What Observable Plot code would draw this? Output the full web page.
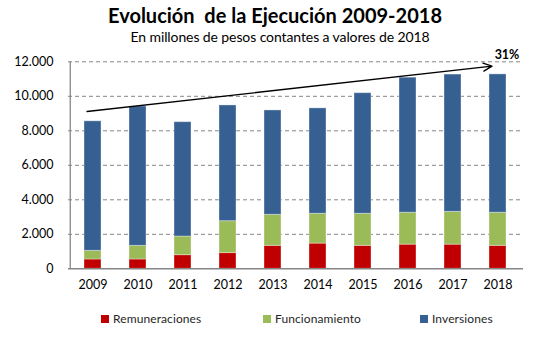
<!DOCTYPE html>
<html><head><meta charset="utf-8">
<script src="https://cdn.jsdelivr.net/npm/d3@7"></script>
<script src="https://cdn.jsdelivr.net/npm/@observablehq/plot@0.6"></script>
<style>
body{margin:0;width:546px;height:346px;background:#fff;font-family:Lato,sans-serif;position:relative;overflow:hidden}
#title{position:absolute;top:3px;left:0;width:546px;text-align:center;font-weight:bold;font-size:20px;white-space:pre;color:#000;padding-left:4px;box-sizing:border-box}
#subtitle{position:absolute;top:28px;left:0;width:546px;text-align:center;font-size:14px;color:#000;padding-left:14px;box-sizing:border-box;letter-spacing:-0.1px}
#chart{position:absolute;top:46px;left:0}
#legend{position:absolute;top:311px;left:0;width:546px;height:16px}
.item{position:absolute;top:0;display:flex;align-items:center;font-size:12px;color:#262626;letter-spacing:0.1px;white-space:nowrap}
.sw{width:8px;height:8px;margin-right:4px}
</style>
</head><body>
<div id="title">Evolución  de la Ejecución 2009-2018</div>
<div id="subtitle">En millones de pesos contantes a valores de 2018</div>
<div id="chart"></div>
<div id="legend"></div>
<script>
const years = ["2009","2010","2011","2012","2013","2014","2015","2016","2017","2018"];
const remuneraciones = [540, 540, 790, 910, 1330, 1460, 1330, 1400, 1400, 1330];
const funcionamiento = [500, 790, 1080, 1850, 1800, 1730, 1860, 1850, 1900, 1920];
const inversiones = [7510, 8080, 6630, 6710, 6050, 6110, 6990, 7830, 7960, 8020];
const series = ["Remuneraciones", "Funcionamiento", "Inversiones"];
const colors = ["#C00000", "#9BBB59", "#376092"];
const yTicks = [0, 2000, 4000, 6000, 8000, 10000, 12000];
const trendStart = 9120;
const trendEnd = 11750;
const trendLabel = "31%";

const values = [remuneraciones, funcionamiento, inversiones];
const rows = [];
years.forEach((yr, i) => series.forEach((s, j) => rows.push({year: yr, serie: s, value: values[j][i]})));
const trend = [{from: years[0], to: years[years.length - 1], start: trendStart, end: trendEnd, label: trendLabel}];

const loc = d3.formatLocale({decimal: ",", thousands: ".", grouping: [3], currency: ["$", ""]});
const fmt = loc.format(",");

const W = 546, ML = 68, MR = 23;
const step = (W - ML - MR) / years.length;

const plot = Plot.plot({
  width: W, height: 254,
  marginLeft: ML, marginRight: MR, marginTop: 15.3, marginBottom: 31.7,
  style: {fontFamily: "Lato, sans-serif", fontSize: "12.5px", color: "#000", background: "transparent", overflow: "visible"},
  x: {domain: years, paddingInner: 0.615, paddingOuter: 0.3075, label: null, tickSize: 0, tickPadding: 11},
  y: {domain: [0, 12000], ticks: yTicks, tickFormat: fmt, label: null, tickSize: 0, tickPadding: 15},
  color: {domain: series, range: colors},
  marks: [
    Plot.ruleY(yTicks.filter(d => d > 0), {stroke: "#868686", strokeDasharray: "4,3"}),
    Plot.barY(rows, {x: "year", y: "value", fill: "serie", stroke: "#ffffff", strokeOpacity: 0.35, strokeWidth: 1}),
    Plot.ruleX(years.slice(0, 1), {y1: 0, y2: 12000, dx: -step / 2, stroke: "#868686", strokeWidth: 1.3}),
    Plot.ruleY([0], {stroke: "#868686", strokeWidth: 1.5}),
    Plot.arrow(trend, {x1: "from", y1: "start", x2: "to", y2: "end", dx: -6, stroke: "#000", strokeWidth: 1.3, headLength: 11, headAngle: 50}),
    Plot.text(trend, {x: "to", y: 12000, text: "label", dx: 9, dy: -7, fontWeight: "bold", fontSize: 12.5, fill: "#000"})
  ]
});
document.getElementById("chart").appendChild(plot);

const legendX = [101, 263, 420];
const lg = document.getElementById("legend");
series.forEach((s, j) => {
  const it = document.createElement("div");
  it.className = "item";
  it.style.left = legendX[j] + "px";
  it.innerHTML = `<span class="sw" style="background:${colors[j]}"></span>${s}`;
  lg.appendChild(it);
});
</script>
</body></html>
